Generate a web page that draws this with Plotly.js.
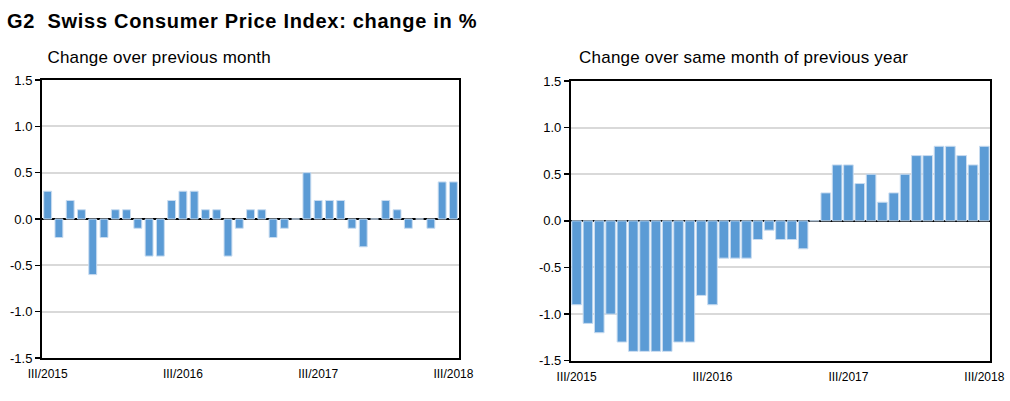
<!DOCTYPE html>
<html><head><meta charset="utf-8">
<script src="https://cdn.plot.ly/plotly-3.0.1.min.js"></script>
<style>body{margin:0;padding:0;background:#fff}#chart{width:1010px;height:401px}
.annotation[data-index="0"] text{letter-spacing:0.7px}
.annotation[data-index="1"] text,.annotation[data-index="2"] text{letter-spacing:0.2px}
</style>
</head><body><div id="chart"></div>
<script>
const months = ["III/2015","IV/2015","V/2015","VI/2015","VII/2015","VIII/2015","IX/2015","X/2015","XI/2015","XII/2015",
"I/2016","II/2016","III/2016","IV/2016","V/2016","VI/2016","VII/2016","VIII/2016","IX/2016","X/2016","XI/2016","XII/2016",
"I/2017","II/2017","III/2017","IV/2017","V/2017","VI/2017","VII/2017","VIII/2017","IX/2017","X/2017","XI/2017","XII/2017",
"I/2018","II/2018","III/2018"];
const momChange = [0.3,-0.2,0.2,0.1,-0.6,-0.2,0.1,0.1,-0.1,-0.4,-0.4,0.2,0.3,0.3,0.1,0.1,-0.4,-0.1,0.1,0.1,-0.2,-0.1,0,0.5,0.2,0.2,0.2,-0.1,-0.3,0,0.2,0.1,-0.1,0,-0.1,0.4,0.4];
const yoyChange = [-0.9,-1.1,-1.2,-1.0,-1.3,-1.4,-1.4,-1.4,-1.4,-1.3,-1.3,-0.8,-0.9,-0.4,-0.4,-0.4,-0.2,-0.1,-0.2,-0.2,-0.3,0,0.3,0.6,0.6,0.4,0.5,0.2,0.3,0.5,0.7,0.7,0.8,0.8,0.7,0.6,0.8];
const tickLabels = ["III/2015","III/2016","III/2017","III/2018"];
const yTicks = [-1.5,-1.0,-0.5,0.0,0.5,1.0,1.5];

const barColor = '#5b9bd5';
const traces = [
  {type:'bar', x: months, y: momChange, xaxis:'x', yaxis:'y', marker:{color:barColor, line:{color:'#c9dcf0', width:1}}, hoverinfo:'x+y'},
  {type:'bar', x: months, y: yoyChange, xaxis:'x2', yaxis:'y2', width:0.85, marker:{color:barColor, line:{color:'#c9dcf0', width:1}}, hoverinfo:'x+y'}
];
const fnt = {family:'Liberation Sans, Arial, sans-serif', color:'#000'};
function xax(dom, anchor){
  return {domain:dom, anchor:anchor, type:'category', categoryorder:'array', categoryarray:months,
    range:[-0.5, months.length-0.5], tickvals:tickLabels, ticktext:tickLabels, tickangle:0,
    showgrid:false, showline:true, linecolor:'#000', linewidth:2, mirror:true, ticks:'', ticklabelstandoff:4,
    tickfont:Object.assign({size:12}, fnt), fixedrange:true, zeroline:false};
}
function yax(dom, anchor){
  return {domain:dom, anchor:anchor, range:[-1.5,1.5], tickvals:yTicks, ticktext:yTicks.map(v=>v.toFixed(1)),
    showgrid:true, gridcolor:'#d9d9d9', gridwidth:2, zeroline:true, zerolinecolor:'#000', zerolinewidth:2,
    showline:true, linecolor:'#000', linewidth:2, mirror:true, ticks:'outside', ticklen:5, tickcolor:'#000', tickwidth:1.5,
    tickfont:Object.assign({size:13}, fnt), fixedrange:true};
}
const layout = {
  width:1010, height:401, margin:{l:0,r:0,t:0,b:0}, paper_bgcolor:'#fff', plot_bgcolor:'#fff',
  showlegend:false, bargap:0.3,
  xaxis: xax([0.0416,0.4545],'y'),
  yaxis: yax([0.1072,0.8005],'x'),
  xaxis2: xax([0.5653,0.9802],'y2'),
  yaxis2: yax([0.1005,0.798],'x2'),
  annotations:[
    {text:'<b>G2  Swiss Consumer Price Index: change in %</b>', xref:'paper', yref:'paper', x:242/1010, y:1-21/401, xanchor:'center', yanchor:'middle', showarrow:false, font:Object.assign({size:20}, fnt)},
    {text:'Change over previous month', xref:'paper', yref:'paper', x:159/1010, y:1-57/401, xanchor:'center', yanchor:'middle', showarrow:false, font:Object.assign({size:17}, fnt)},
    {text:'Change over same month of previous year', xref:'paper', yref:'paper', x:744/1010, y:1-57/401, xanchor:'center', yanchor:'middle', showarrow:false, font:Object.assign({size:17}, fnt)}
  ]
};
Plotly.newPlot('chart', traces, layout, {displayModeBar:false, staticPlot:true});
</script></body></html>
